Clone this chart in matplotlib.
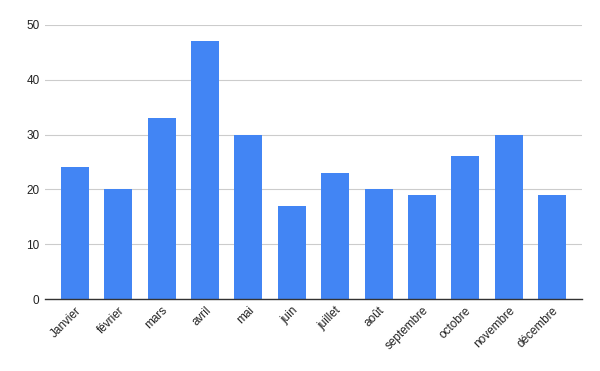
"""Monthly bar chart, Google Sheets look."""

import matplotlib
import matplotlib.pyplot as plt

matplotlib.use('Agg')

months = ["Janvier", "février", "mars", "avril", "mai", "juin",
          "juillet", "août", "septembre", "octobre", "novembre", "décembre"]
values = [24, 20, 33, 47, 30, 17, 23, 20, 19, 26, 30, 19]
y_ticks = [0, 10, 20, 30, 40, 50]

plt.rcParams['font.family'] = ['Liberation Sans', 'DejaVu Sans']

fig = plt.figure(figsize=(6, 3.71), dpi=100)
ax = fig.add_axes([0.075, 0.194, 0.895, 0.739])

x = list(range(len(months)))
ax.bar(x, values, width=0.645, color='#4285f4', zorder=3)

ax.set_xlim(-0.69, len(months) - 1 + 0.69)
ax.set_ylim(0, 50)
ax.set_yticks(y_ticks)
ax.set_yticklabels([str(t) for t in y_ticks], fontsize=8.5, color='#222222')
ax.set_xticks(x)
ax.set_xticklabels(months, rotation=45, ha='right', rotation_mode='anchor',
                   fontsize=8.5, color='#222222')

ax.grid(axis='y', color='#cccccc', linewidth=0.8, zorder=0)
ax.tick_params(axis='y', length=0, pad=4)
ax.tick_params(axis='x', length=0, pad=4)
for side in ['top', 'right', 'left']:
    ax.spines[side].set_visible(False)
ax.spines['bottom'].set_color('#333333')
ax.spines['bottom'].set_linewidth(1)
ax.spines['bottom'].set_zorder(4)

fig.savefig('out.png', dpi=100)
plt.close(fig)
